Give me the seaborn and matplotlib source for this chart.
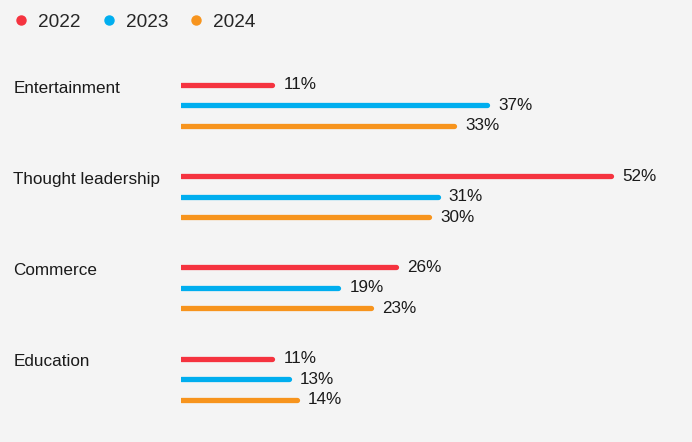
import matplotlib
matplotlib.use("Agg")
import matplotlib.pyplot as plt
import matplotlib.transforms as mtransforms
from matplotlib.lines import Line2D
import pandas as pd
import seaborn as sns

# =========================
# DATA
# =========================
CATEGORIES = ["Entertainment", "Thought leadership", "Commerce", "Education"]
YEARS = ["2022", "2023", "2024"]
VALUES_2022 = [11, 52, 26, 11]
VALUES_2023 = [37, 31, 19, 13]
VALUES_2024 = [33, 30, 23, 14]
COLORS = ["#f5333f", "#00aeef", "#f7941d"]
BG = "#f4f4f4"

GROUP_STEP = 4.45  # rows between groups

# long table
rows = []
for g, cat in enumerate(CATEGORIES):
    for j, (year, vals) in enumerate(zip(YEARS, [VALUES_2022, VALUES_2023, VALUES_2024])):
        rows.append({"category": cat, "year": year, "value": vals[g],
                     "row": g * GROUP_STEP + j})
df = pd.DataFrame(rows)

# =========================
# PLOT
# =========================
sns.set_theme(style="white")
plt.rcParams["font.family"] = ["Liberation Sans", "DejaVu Sans"]

fig = plt.figure(figsize=(6.92, 4.42), dpi=100, facecolor=BG)
ax = fig.add_axes([0.262, 0.0193, 0.711, 0.8812])
ax.set_facecolor(BG)

palette = dict(zip(YEARS, COLORS))
for year, sub in df.groupby("year"):
    lc = ax.hlines(sub["row"], 0, sub["value"], color=palette[year], lw=3.8)
    lc.set_capstyle("round")
    for _, r in sub.iterrows():
        ax.annotate(f"{r['value']}%", (r["value"], r["row"]), xytext=(8, 0),
                    textcoords="offset points", va="center", ha="left",
                    fontsize=12.3, color="#1a1a1a")

ax.set_xlim(0, 59.5)
ax.set_ylim(17, -2)
ax.set_xticks([])
ax.set_yticks([])
sns.despine(ax=ax, left=True, bottom=True)

# category labels on the left
trans = mtransforms.blended_transform_factory(fig.transFigure, ax.transData)
for g, cat in enumerate(CATEGORIES):
    ax.text(0.019, g * GROUP_STEP + 0.15, cat, transform=trans, ha="left",
            va="center", fontsize=12.3, color="#1a1a1a")

handles = [Line2D([], [], marker="o", ls="", color=c, markersize=6.5) for c in COLORS]
fig.legend(handles, YEARS, loc="upper left", bbox_to_anchor=(0.019, 0.97), ncol=3,
           frameon=False, borderpad=0, borderaxespad=0, handletextpad=0.5,
           columnspacing=1.08, fontsize=13.7, handlelength=0.8)

fig.savefig("out.png", dpi=100, facecolor=BG)
